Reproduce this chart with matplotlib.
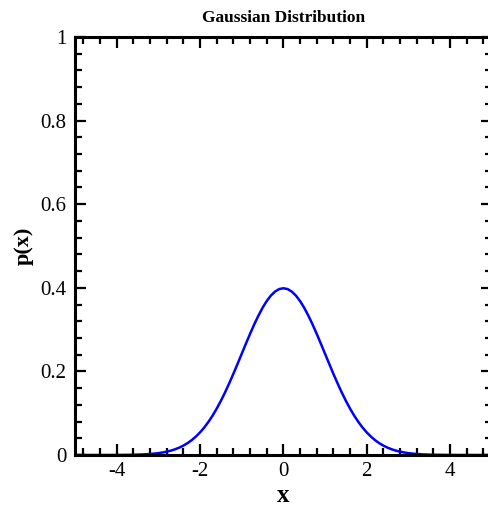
import matplotlib
matplotlib.use('Agg')
import matplotlib.pyplot as plt
from matplotlib.ticker import MultipleLocator, FormatStrFormatter

# values, every 0.1 in x
x_vals = [round(-5.0 + 0.1 * i, 1) for i in range(101)]
p_vals = [0.0, 0.0, 0.0, 0.0, 0.0, 0.0, 0.0, 0.0, 0.0, 0.0001, 0.0001,
          0.0002, 0.0003, 0.0004, 0.0006, 0.0009, 0.0012, 0.0017, 0.0024, 0.0033, 0.0044,
          0.006, 0.0079, 0.0104, 0.0136, 0.0175, 0.0224, 0.0283, 0.0355, 0.044, 0.054,
          0.0656, 0.079, 0.094, 0.1109, 0.1295, 0.1497, 0.1714, 0.1942, 0.2179, 0.242,
          0.2661, 0.2897, 0.3123, 0.3332, 0.3521, 0.3683, 0.3814, 0.391, 0.397, 0.3989,
          0.397, 0.391, 0.3814, 0.3683, 0.3521, 0.3332, 0.3123, 0.2897, 0.2661, 0.242,
          0.2179, 0.1942, 0.1714, 0.1497, 0.1295, 0.1109, 0.094, 0.079, 0.0656, 0.054,
          0.044, 0.0355, 0.0283, 0.0224, 0.0175, 0.0136, 0.0104, 0.0079, 0.006, 0.0044,
          0.0033, 0.0024, 0.0017, 0.0012, 0.0009, 0.0006, 0.0004, 0.0003, 0.0002, 0.0001,
          0.0001, 0.0, 0.0, 0.0, 0.0, 0.0, 0.0, 0.0, 0.0, 0.0]
x_ticks = [-4, -2, 0, 2, 4]
y_ticks = [0, 0.2, 0.4, 0.6, 0.8, 1]

plt.rcParams['font.family'] = ['Liberation Serif', 'DejaVu Serif']

fig = plt.figure(figsize=(4.88, 5.07), dpi=100)
ax = fig.add_axes([0.1537, 0.1026, 0.854, 0.8244])

ax.plot(x_vals, p_vals, color='#0000ff', lw=1.8, solid_joinstyle='round')

ax.set_xlim(-5, 5)
ax.set_ylim(0, 1)
ax.set_xticks(x_ticks)
ax.set_yticks(y_ticks)
ax.xaxis.set_minor_locator(MultipleLocator(0.4))
ax.yaxis.set_minor_locator(MultipleLocator(0.04))
ax.xaxis.set_major_formatter(FormatStrFormatter('%g'))
ax.yaxis.set_major_formatter(FormatStrFormatter('%g'))

for s in ax.spines.values():
  s.set_linewidth(2.2)
ax.tick_params(which='both', direction='in', top=True, right=True,
               labelsize=15, width=1.6)
ax.tick_params(axis='x', pad=5)
ax.tick_params(axis='y', pad=6)
ax.tick_params(which='major', length=8)
ax.tick_params(which='minor', length=5)

ax.set_title('Gaussian Distribution', fontsize=12.5, fontweight='bold', pad=11)
ax.set_xlabel('x', fontsize=18, fontweight='bold', labelpad=2)
ax.set_ylabel('p(x)', fontsize=16, fontweight='bold', labelpad=5)

fig.savefig('out.png', dpi=100)
